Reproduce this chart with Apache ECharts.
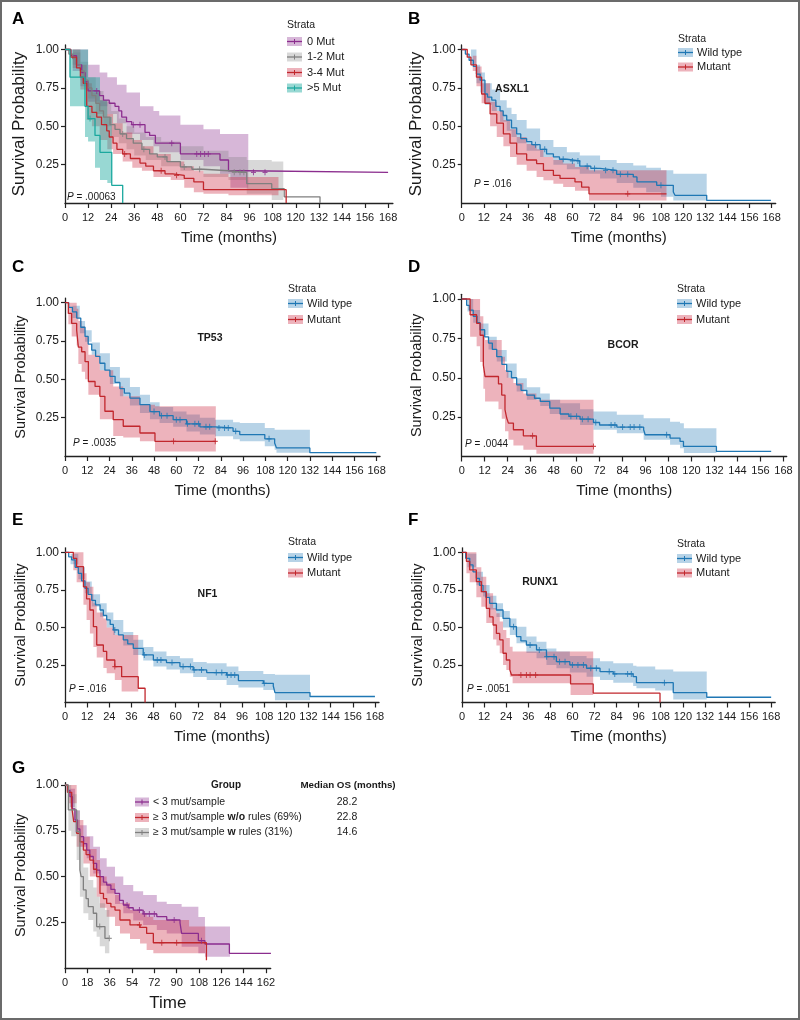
<!DOCTYPE html>
<html><head><meta charset="utf-8">
<script src="https://cdn.jsdelivr.net/npm/echarts@6.0.0/dist/echarts.min.js"></script>
<style>
html,body{margin:0;padding:0;background:#fff}
#c{width:800px;height:1020px;position:absolute;left:0;top:0}
#frame{position:absolute;left:0;top:0;width:800px;height:1020px;box-sizing:border-box;border:2px solid #6b6b6b;pointer-events:none}
</style></head>
<body><div id="c"></div><div id="frame"></div>
<script>
// ---------------- DATA ----------------
const MONTH_TICKS = [0,12,24,36,48,60,72,84,96,108,120,132,144,156,168];
const G_TIME_TICKS = [0,18,36,54,72,90,108,126,144,162];
const SURV_TICKS = [0.25,0.5,0.75,1.0];
const PANEL_LETTERS = ['A','B','C','D','E','F','G'];
const GENES = ['ASXL1','TP53','BCOR','NF1','RUNX1'];
const P_VALUES = ['.00063','.016','.0035','.0044','.016','.0051'];
const STRATA_A = ['0 Mut','1-2 Mut','3-4 Mut','>5 Mut'];
const STRATA_GENE = ['Wild type','Mutant'];
const G_GROUPS = ['< 3 mut/sample','≥ 3 mut/sample {b|w/o} rules (69%)','≥ 3 mut/sample {b|w} rules (31%)'];
const G_MEDIAN_OS = ['28.2','22.8','14.6'];

// Panel A  : [time, survival] ; CI: [time, lower, upper] ; censor times
const A_MUT0 = [[0,1],[3,0.96],[6,0.9],[8.7,0.85],[10.4,0.79],[12,0.73],[18,0.7],[20,0.67],[23,0.65],[26,0.63],[28,0.6],[29.5,0.56],[32,0.53],[34.7,0.51],[41.6,0.46],[44,0.44],[47,0.39],[60,0.32],[80.6,0.28],[85,0.21],[94,0.2],[168,0.2]];
const A_MUT0_CI = [[0,1,1],[4,0.86,1],[8,0.76,1],[12,0.66,0.9],[18,0.63,0.85],[22,0.58,0.82],[27,0.52,0.77],[32,0.45,0.72],[39,0.41,0.63],[46,0.37,0.6],[49,0.33,0.57],[60,0.28,0.51],[72,0.24,0.48],[80.6,0.19,0.45],[86,0.1,0.45],[95.3,0.1,0.45]];
const A_MUT0_CENS = [16.5,35.5,39,55.5,68.5,70.5,72.6,74.5,98,104];
const A_MUT12 = [[0,1],[2,0.97],[4,0.94],[6,0.9],[8,0.86],[10,0.8],[12,0.75],[14,0.7],[16,0.65],[18,0.6],[20,0.56],[23.4,0.51],[26,0.48],[28.6,0.45],[32,0.42],[35.5,0.39],[40,0.35],[44,0.32],[48,0.3],[53,0.27],[60,0.235],[66,0.22],[72,0.21],[85,0.2],[94.5,0.126],[107.5,0.093],[114,0.04],[132.6,0]];
const A_MUT12_CI = [[0,1,1],[4,0.9,0.98],[8,0.8,0.92],[12,0.68,0.82],[16,0.58,0.73],[20,0.5,0.66],[24,0.43,0.6],[28,0.39,0.55],[32,0.35,0.5],[36,0.31,0.46],[42,0.28,0.43],[50,0.24,0.4],[60,0.21,0.37],[72,0.17,0.34],[85,0.15,0.3],[94.5,0.06,0.28],[107.5,0.02,0.27],[113.5,0.02,0.27]];
const A_MUT12_CENS = [30,41,52,62,70,88,91,93];
const A_MUT34 = [[0,1],[3,0.95],[6,0.88],[8,0.82],[9.5,0.78],[11.3,0.63],[14,0.59],[16.5,0.56],[19,0.51],[21.7,0.47],[23,0.43],[25,0.39],[27,0.35],[30,0.32],[34,0.29],[39,0.26],[42,0.24],[46,0.21],[52,0.19],[56,0.18],[62,0.16],[67,0.137],[72,0.087],[115,0]];
const A_MUT34_CI = [[0,1,1],[4,0.88,1],[8,0.74,0.9],[11.3,0.54,0.78],[14,0.5,0.72],[18,0.41,0.67],[22,0.35,0.58],[25,0.32,0.52],[30,0.27,0.46],[35,0.23,0.41],[40,0.21,0.37],[46,0.17,0.32],[55,0.15,0.27],[62,0.1,0.24],[67,0.07,0.21],[72,0.06,0.19],[85,0.05,0.17],[111,0.05,0.17]];
const A_MUT34_CENS = [31,50,58];
const A_MUT5 = [[0,1],[2.6,0.82],[10.4,0.63],[12,0.55],[15.6,0.44],[18.2,0.33],[24.3,0.115],[30,0]];
const A_MUT5_CI = [[0,1,1],[2.6,0.63,1],[10.4,0.43,1],[12,0.4,0.82],[15.6,0.23,0.82],[18.2,0.15,0.67],[22,0.13,0.56],[24.3,0.13,0.56]];
const A_MUT5_CENS = [13];

// Panel B (ASXL1)
const B_WT = [[0,1],[2,0.97],[4,0.93],[6.3,0.89],[8,0.84],[10,0.8],[12.6,0.71],[14,0.69],[16.3,0.67],[18.5,0.63],[20.8,0.6],[22.5,0.57],[24.4,0.54],[27,0.49],[29.8,0.45],[32,0.42],[35.2,0.4],[38,0.38],[42.5,0.35],[46,0.32],[49.7,0.3],[53,0.285],[57,0.274],[64,0.24],[70,0.225],[75,0.213],[84,0.187],[93,0.17],[95,0.137],[105.7,0.115],[114.7,0.072],[115.6,0.05],[132.8,0.017],[167.6,0.017]];
const B_WT_CI = [[0,1,1],[5,0.9,1],[8,0.78,0.9],[10,0.72,0.85],[12.6,0.64,0.78],[16.3,0.6,0.74],[20.8,0.53,0.67],[24.4,0.47,0.62],[27,0.43,0.58],[29.8,0.39,0.54],[35.2,0.34,0.485],[42.5,0.3,0.41],[49.7,0.25,0.365],[57,0.22,0.33],[64,0.19,0.31],[75,0.16,0.28],[84,0.13,0.26],[93,0.1,0.245],[100,0.07,0.23],[108,0.04,0.213],[114.7,0.017,0.19],[132.8,0.017,0.19]];
const B_WT_CENS = [40,45,55,60,63,68,72,78,82,86,90,108];
const B_MUT = [[0,1],[3,0.95],[5,0.9],[8,0.82],[10.8,0.71],[12.6,0.65],[15.4,0.58],[19,0.52],[22.6,0.45],[26.2,0.39],[29.8,0.32],[35.2,0.28],[40.6,0.257],[44.3,0.213],[49.7,0.18],[53.3,0.16],[61.4,0.137],[65,0.104],[69,0.06],[111,0.06]];
const B_MUT_CI = [[0,1,1],[6,0.86,0.96],[8,0.76,0.89],[10.8,0.65,0.78],[15.4,0.5,0.66],[19,0.43,0.6],[22.6,0.37,0.54],[26.2,0.3,0.48],[29.8,0.25,0.43],[35.2,0.21,0.385],[40.6,0.17,0.35],[44.3,0.148,0.3],[49.7,0.125,0.28],[55,0.104,0.257],[61.4,0.08,0.235],[69,0.017,0.213],[111,0.017,0.213]];
const B_MUT_CENS = [90];

// Panel C (TP53)
const C_WT = [[0,1],[2,0.97],[4,0.94],[6.3,0.9],[8.5,0.84],[10.8,0.78],[12.5,0.73],[14.4,0.69],[16.5,0.65],[18.8,0.605],[21.5,0.56],[24.2,0.52],[27,0.48],[29.6,0.44],[32,0.41],[35,0.378],[40.4,0.335],[45.8,0.29],[51,0.263],[58.3,0.237],[65.5,0.21],[72.7,0.19],[80.8,0.183],[90.6,0.161],[94.2,0.14],[107.7,0.112],[113,0.085],[114,0.053],[132,0.022],[167.8,0.022]];
const C_WT_CI = [[0,1,1],[4,0.9,0.98],[8,0.8,0.88],[10.8,0.746,0.82],[14.4,0.66,0.74],[18.8,0.56,0.67],[24.2,0.47,0.58],[29.6,0.389,0.51],[35,0.33,0.45],[40.4,0.28,0.4],[45.8,0.24,0.35],[51,0.215,0.32],[58.3,0.19,0.29],[65.5,0.16,0.27],[72.7,0.14,0.25],[80.8,0.129,0.237],[90.6,0.11,0.22],[94.2,0.096,0.215],[107.7,0.064,0.183],[113,0.04,0.172],[114,0.022,0.172],[132,0.022,0.172]];
const C_WT_CENS = [48,52,55,60,62,66,70,72,76,78,83,86,88,92,110];
const C_MUT = [[0,1],[1.8,0.93],[3.6,0.865],[6.3,0.82],[7.2,0.71],[9,0.68],[10.8,0.616],[12.6,0.486],[16.2,0.454],[18.8,0.389],[21.5,0.292],[26,0.237],[31.4,0.194],[40.4,0.15],[48.5,0.096],[81.3,0.096]];
const C_MUT_CI = [[0,1,1],[1.8,0.86,1],[3.6,0.78,1],[6.3,0.72,0.96],[7.2,0.6,0.88],[9,0.55,0.845],[10.8,0.5,0.78],[12.6,0.4,0.66],[18.8,0.24,0.56],[26,0.13,0.454],[31.4,0.12,0.39],[40.4,0.096,0.335],[48.5,0.03,0.324],[81.3,0.03,0.324]];
const C_MUT_CENS = [58.5,81];

// Panel D (BCOR)
const D_WT = [[0,1],[2.6,0.96],[4,0.93],[6,0.89],[8,0.85],[9.6,0.805],[12,0.76],[14,0.72],[16,0.68],[18.3,0.634],[21,0.585],[23.5,0.54],[26,0.5],[28.7,0.455],[31,0.42],[34,0.39],[38,0.37],[41,0.35],[46,0.307],[51.4,0.27],[56,0.255],[61.8,0.237],[68.8,0.216],[72,0.2],[81,0.187],[95,0.17],[95.8,0.138],[108.8,0.117],[114,0.096],[115.8,0.064],[133,0.032],[161.6,0.032]];
const D_WT_CI = [[0,1,1],[3,0.92,1],[6,0.85,0.93],[9.6,0.77,0.845],[14,0.68,0.76],[18.3,0.603,0.677],[23.5,0.5,0.59],[28.7,0.413,0.497],[34,0.36,0.44],[41,0.32,0.4],[46,0.27,0.36],[51.4,0.233,0.338],[61.8,0.2,0.3],[68.8,0.17,0.286],[81,0.148,0.265],[95,0.106,0.243],[108.8,0.075,0.22],[114,0.053,0.211],[116,0.022,0.18],[133,0.022,0.18]];
const D_WT_CENS = [57,60,63,66,70,78,80,84,88,90,93,107];
const D_MUT = [[0,1],[4.4,0.9],[7.8,0.846],[9.6,0.77],[11.3,0.58],[12.2,0.508],[19.2,0.461],[20.9,0.39],[22.6,0.297],[23.5,0.244],[24.4,0.212],[27,0.17],[32.2,0.131],[39,0.064],[68.8,0.064]];
const D_MUT_CI = [[0,1,1],[4.4,0.76,1],[7.8,0.7,1],[9.6,0.6,0.89],[11.3,0.43,0.8],[12.2,0.35,0.74],[19.2,0.3,0.74],[20.9,0.24,0.634],[22.6,0.16,0.55],[24.4,0.106,0.5],[27,0.07,0.466],[32.2,0.043,0.4],[39,0.017,0.36],[68.8,0.017,0.36]];
const D_MUT_CENS = [37,68.8];

// Panel E (NF1)
const E_WT = [[0,1],[2,0.97],[3.6,0.95],[5.5,0.9],[7.2,0.86],[9,0.81],[10.8,0.76],[12.5,0.72],[14.5,0.68],[16.5,0.65],[19,0.616],[20.8,0.58],[22.6,0.55],[24.5,0.52],[26.2,0.483],[29,0.45],[31.6,0.417],[34,0.39],[37,0.36],[42.4,0.317],[47.9,0.283],[55,0.266],[62.3,0.239],[69.5,0.217],[76.8,0.199],[87.6,0.183],[94,0.146],[107.5,0.128],[112.9,0.11],[113.8,0.066],[132.8,0.04],[168,0.04]];
const E_WT_CI = [[0,1,1],[3,0.92,0.99],[7.2,0.82,0.9],[10.8,0.727,0.805],[14.5,0.64,0.72],[19,0.571,0.66],[22.6,0.5,0.6],[26.2,0.45,0.55],[31.6,0.38,0.47],[37,0.317,0.417],[42.4,0.28,0.37],[47.9,0.239,0.34],[55,0.22,0.31],[62.3,0.195,0.294],[69.5,0.17,0.27],[76.8,0.15,0.261],[87.6,0.117,0.239],[94,0.1,0.21],[107.5,0.084,0.19],[113.8,0.015,0.184],[132.8,0.015,0.184]];
const E_WT_CENS = [27,43,50,52,58,64,68,70,74,82,85,88,90,92,108];
const E_MUT = [[0,1],[4.5,0.96],[6.3,0.905],[10,0.77],[11.7,0.69],[13.5,0.616],[15.4,0.505],[17.2,0.383],[20.8,0.34],[22.6,0.283],[27,0.239],[30.7,0.172],[39.7,0.095],[43.4,0]];
const E_MUT_CI = [[0,1,1],[4.5,0.88,1],[6.3,0.8,1],[10,0.65,0.86],[11.7,0.55,0.8],[13.5,0.46,0.77],[15.4,0.37,0.66],[17.2,0.3,0.6],[20.8,0.23,0.56],[22.6,0.195,0.5],[27,0.15,0.45],[30.7,0.073,0.45],[39.7,0.073,0.45]];
const E_MUT_CENS = [27];

// Panel F (RUNX1)
const F_WT = [[0,1],[2,0.96],[4.2,0.916],[6,0.87],[7.8,0.827],[9.5,0.78],[11.4,0.738],[13,0.7],[15,0.66],[18.7,0.616],[22.3,0.56],[26,0.505],[29.6,0.439],[32,0.41],[35,0.383],[40.5,0.35],[45.9,0.305],[51.3,0.272],[58.6,0.25],[67.7,0.228],[75,0.206],[82.2,0.19],[93,0.172],[94.8,0.132],[114.8,0.066],[133,0.035],[168,0.035]];
const F_WT_CI = [[0,1,1],[3,0.9,0.99],[7.8,0.78,0.87],[11.4,0.705,0.782],[15,0.62,0.71],[18.7,0.57,0.66],[22.3,0.5,0.61],[26,0.45,0.56],[29.6,0.394,0.505],[35,0.33,0.44],[40.5,0.294,0.405],[45.9,0.25,0.36],[51.3,0.228,0.339],[58.6,0.2,0.31],[67.7,0.172,0.294],[75,0.15,0.275],[82.2,0.132,0.261],[93,0.11,0.245],[94.8,0.095,0.239],[105,0.08,0.22],[114.8,0.02,0.206],[133,0.02,0.206]];
const F_WT_CENS = [28,37,42,46,50,53,56,60,63,66,70,73,80,83,90,92,110];
const F_MUT = [[0,1],[2.4,0.94],[4.2,0.883],[7.8,0.805],[10.5,0.738],[13.2,0.627],[15,0.57],[16.9,0.516],[18.7,0.46],[20.5,0.417],[22.3,0.328],[24.1,0.283],[26,0.217],[26.9,0.183],[59,0.124],[71.3,0.062],[107.6,0]];
const F_MUT_CI = [[0,1,1],[2.4,0.86,1],[4.2,0.8,1],[7.8,0.7,0.9],[10.5,0.638,0.838],[13.2,0.53,0.727],[16.9,0.42,0.63],[18.7,0.38,0.594],[20.5,0.328,0.54],[22.3,0.25,0.483],[24.1,0.217,0.43],[26,0.172,0.372],[27.5,0.128,0.339],[59,0.05,0.339],[71.3,0.05,0.339]];
const F_MUT_CENS = [32,35,37,40];

// Panel G
const G_LOW = [[0,1],[2,0.97],[4,0.936],[6,0.87],[8,0.809],[10,0.76],[12,0.718],[15,0.68],[17.5,0.645],[20,0.61],[22.8,0.572],[25.5,0.535],[28.2,0.5],[31,0.47],[33.6,0.454],[37,0.43],[40.3,0.408],[44,0.37],[47,0.345],[51,0.33],[55,0.317],[63,0.296],[74,0.281],[82,0.263],[92.7,0.248],[94,0.19],[107.5,0.15],[112.8,0.132],[132.5,0.081],[166,0.081]];
const G_LOW_CI = [[0,1,1],[4,0.88,0.98],[8,0.74,0.86],[12,0.663,0.78],[17.5,0.6,0.72],[22.8,0.517,0.663],[28.2,0.45,0.6],[33.6,0.408,0.554],[40.3,0.35,0.5],[47,0.3,0.454],[55,0.26,0.42],[63,0.236,0.4],[74,0.208,0.363],[82,0.19,0.35],[94,0.117,0.336],[107.5,0.081,0.28],[112.8,0.063,0.227],[133,0.063,0.227]];
const G_LOW_CENS = [50,60,64,68,72,88,110];
const G_NORULE = [[0,1],[2,0.96],[5.4,0.882],[7,0.8],[9.4,0.736],[12,0.69],[14.8,0.645],[17,0.62],[20,0.59],[23,0.54],[25.5,0.5],[28.2,0.408],[31,0.38],[33.6,0.354],[37,0.335],[40.3,0.317],[44.3,0.263],[52.4,0.236],[60.5,0.223],[65.8,0.19],[71.2,0.139],[114,0.044]];
const G_NORULE_CI = [[0,1,1],[3,0.9,1],[9.4,0.663,0.809],[14.8,0.572,0.718],[20,0.5,0.65],[25.5,0.39,0.59],[28.2,0.33,0.5],[33.6,0.281,0.463],[40.3,0.23,0.4],[44.3,0.19,0.354],[52.4,0.16,0.317],[60.5,0.135,0.3],[65.8,0.1,0.281],[71.2,0.081,0.263],[100,0.081,0.227],[113,0.081,0.227]];
const G_NORULE_CENS = [60,78,90];
const G_RULE = [[0,1],[2.7,0.864],[9.4,0.745],[12,0.536],[13,0.5],[14.8,0.427],[17,0.38],[18.8,0.336],[22.8,0.3],[25.5,0.227],[32.2,0.163],[35.7,0.163]];
const G_RULE_CI = [[0,1,1],[2.7,0.75,1],[5,0.72,0.95],[9.4,0.59,0.864],[12,0.39,0.663],[14.8,0.3,0.55],[18.8,0.263,0.481],[22.8,0.2,0.44],[25.5,0.172,0.39],[28,0.12,0.354],[32.2,0.081,0.317],[35.7,0.081,0.317]];
const G_RULE_CENS = [28,35.7];

// ---------------- STYLE / LAYOUT ----------------
const FONT = '"Liberation Sans", Arial, sans-serif';
const TXT = '#1a1a1a';
const COL = {
  purple: ['#8B2D8E','rgba(139,45,142,0.34)'],
  gray:   ['#7f7f7f','rgba(127,127,127,0.30)'],
  red:    ['#C1272D','rgba(205,45,70,0.36)'],
  teal:   ['#1AA89E','rgba(26,168,158,0.45)'],
  blue:   ['#1F77B4','rgba(31,119,180,0.32)']
};
const PLUS = 'path://M4,0H6V4H10V6H6V10H4V6H0V4H4Z';

function survAt(curve, t){ let s = curve[0][1]; for (const p of curve){ if (p[0] <= t) s = p[1]; } return s; }

const grids = [], xAxes = [], yAxes = [], series = [], graphics = [];

// step-shaped confidence band drawn as one polygon through the axis scales
function bandRenderer(fill){
  return function(params, api){
    if (params.dataIndex !== 0) return null;
    const rows = [];
    for (let i = 0; i < 500; i++){
      const t = api.value(0, i);
      if (t === undefined || t === null || isNaN(t)) break;
      rows.push([t, api.value(1, i), api.value(2, i)]);
    }
    const top = [], bot = [];
    for (let k = 0; k < rows.length; k++){
      const r = rows[k];
      const tn = k < rows.length - 1 ? rows[k + 1][0] : r[0];
      top.push(api.coord([r[0], r[2]]), api.coord([tn, r[2]]));
      bot.push(api.coord([r[0], r[1]]), api.coord([tn, r[1]]));
    }
    return {type:'polygon', shape:{points:top.concat(bot.reverse())}, style:{fill:fill}, silent:true};
  };
}

function addPanel(L, ticks, xName, yNameSize, curves){
  const gi = grids.length;
  grids.push({left:L.left, top:L.top, width:L.width, height:L.height, containLabel:false, outerBoundsMode:'none'});
  xAxes.push({
    type:'value', gridIndex:gi, min:0, max:L.xmax,
    axisLine:{show:true, onZero:false, lineStyle:{color:'#222', width:1.3}},
    axisTick:{show:true, customValues:ticks, length:5, lineStyle:{color:'#222', width:1.2}},
    axisLabel:{show:true, customValues:ticks, fontSize:11, color:TXT, fontFamily:FONT, margin:9},
    splitLine:{show:false},
    name:xName, nameLocation:'middle', nameGap:L.xGap || 27,
    nameTextStyle:{fontSize:L.xNameSize || 15, color:TXT, fontFamily:FONT}
  });
  yAxes.push({
    type:'value', gridIndex:gi, min:0, max:L.ymax,
    axisLine:{show:true, onZero:false, lineStyle:{color:'#222', width:1.3}},
    axisTick:{show:true, customValues:SURV_TICKS, length:4, lineStyle:{color:'#222', width:1.2}},
    axisLabel:{show:true, customValues:SURV_TICKS, fontSize:12, color:TXT, fontFamily:FONT, margin:6,
      formatter:v => v.toFixed(2)},
    splitLine:{show:false},
    name:'Survival Probability', nameLocation:'middle', nameGap:37,
    nameTextStyle:{fontSize:yNameSize, color:TXT, fontFamily:FONT}
  });
  curves.forEach(c => {
    series.push({type:'custom', xAxisIndex:gi, yAxisIndex:gi, silent:true, z:1, clip:true,
      encode:{x:0, y:[1,2]}, data:c.ci, renderItem:bandRenderer(c.col[1])});
  });
  curves.forEach(c => {
    series.push({type:'line', xAxisIndex:gi, yAxisIndex:gi, step:'end', symbol:'none', silent:true, z:3,
      lineStyle:{color:c.col[0], width:1.3}, data:c.curve});
    series.push({type:'scatter', xAxisIndex:gi, yAxisIndex:gi, symbol:PLUS, symbolSize:[5,6], silent:true, z:4,
      itemStyle:{color:c.col[0]}, data:c.cens.map(t => [t, survAt(c.curve, t)])});
  });
}

function text(x, y, str, opt){
  graphics.push({type:'text', x:x, y:y, silent:true, z:10,
    style:Object.assign({text:str, fill:TXT, fontFamily:FONT, fontSize:11, align:'left', verticalAlign:'middle'}, opt || {})});
}
function strataLegend(x, yTitle, keyYs, labelX, labels, cols){
  text(x, yTitle, 'Strata', {fontSize:10.5});
  keyYs.forEach((ky, i) => {
    graphics.push({type:'rect', silent:true, z:10, shape:{x:x, y:ky - 4.5, width:15, height:9}, style:{fill:cols[i][1]}});
    graphics.push({type:'line', silent:true, z:11, shape:{x1:x, y1:ky, x2:x + 15, y2:ky}, style:{stroke:cols[i][0], lineWidth:1.3}});
    graphics.push({type:'line', silent:true, z:11, shape:{x1:x + 7.5, y1:ky - 2.5, x2:x + 7.5, y2:ky + 2.5}, style:{stroke:cols[i][0], lineWidth:1}});
    text(labelX, ky, labels[i], {fontSize:11});
  });
}
function pval(x, y, v){
  text(x, y, '{i|P} = ' + v, {fontSize:10, rich:{i:{fontStyle:'italic', fontSize:10, fontFamily:FONT, fill:TXT}}});
}
function gene(x, y, g){ text(x, y, g, {fontSize:10.5, fontWeight:'bold', align:'center'}); }

// Panel A
addPanel({left:65, top:44.9, width:327.9, height:158.1, xmax:170.5, ymax:1.03}, MONTH_TICKS, 'Time (months)', 17, [
  {curve:A_MUT0, ci:A_MUT0_CI, cens:A_MUT0_CENS, col:COL.purple},
  {curve:A_MUT12, ci:A_MUT12_CI, cens:A_MUT12_CENS, col:COL.gray},
  {curve:A_MUT34, ci:A_MUT34_CI, cens:A_MUT34_CENS, col:COL.red},
  {curve:A_MUT5, ci:A_MUT5_CI, cens:A_MUT5_CENS, col:COL.teal}
]);
// Panel B
addPanel({left:461.7, top:44.9, width:314, height:158.1, xmax:170.2, ymax:1.03}, MONTH_TICKS, 'Time (months)', 17, [
  {curve:B_WT, ci:B_WT_CI, cens:B_WT_CENS, col:COL.blue},
  {curve:B_MUT, ci:B_MUT_CI, cens:B_MUT_CENS, col:COL.red}
]);
// Panel C
addPanel({left:65, top:298.1, width:315, height:157.9, xmax:169.8, ymax:1.03}, MONTH_TICKS, 'Time (months)', 14.5, [
  {curve:C_WT, ci:C_WT_CI, cens:C_WT_CENS, col:COL.blue},
  {curve:C_MUT, ci:C_MUT_CI, cens:C_MUT_CENS, col:COL.red}
]);
// Panel D
addPanel({left:461.7, top:294.3, width:325, height:162.2, xmax:169.7, ymax:1.03}, MONTH_TICKS, 'Time (months)', 14.5, [
  {curve:D_WT, ci:D_WT_CI, cens:D_WT_CENS, col:COL.blue},
  {curve:D_MUT, ci:D_MUT_CI, cens:D_MUT_CENS, col:COL.red}
]);
// Panel E
addPanel({left:65, top:547.8, width:314, height:154.7, xmax:170.2, ymax:1.03}, MONTH_TICKS, 'Time (months)', 14.5, [
  {curve:E_WT, ci:E_WT_CI, cens:E_WT_CENS, col:COL.blue},
  {curve:E_MUT, ci:E_MUT_CI, cens:E_MUT_CENS, col:COL.red}
]);
// Panel F
addPanel({left:462, top:547.8, width:313.2, height:154.7, xmax:170.2, ymax:1.03}, MONTH_TICKS, 'Time (months)', 14.5, [
  {curve:F_WT, ci:F_WT_CI, cens:F_WT_CENS, col:COL.blue},
  {curve:F_MUT, ci:F_MUT_CI, cens:F_MUT_CENS, col:COL.red}
]);
// Panel G
addPanel({left:65, top:782.7, width:205.7, height:185.5, xmax:165.8, ymax:1.0125, xNameSize:17, xGap:27}, G_TIME_TICKS, 'Time', 14.5, [
  {curve:G_LOW, ci:G_LOW_CI, cens:G_LOW_CENS, col:COL.purple},
  {curve:G_NORULE, ci:G_NORULE_CI, cens:G_NORULE_CENS, col:COL.red},
  {curve:G_RULE, ci:G_RULE_CI, cens:G_RULE_CENS, col:COL.gray}
]);

// Panel letters
const letterPos = [[12,19],[408,19],[12,267],[408,267],[12,520],[408,520],[12,768]];
PANEL_LETTERS.forEach((l, i) => text(letterPos[i][0], letterPos[i][1], l, {fontSize:17, fontWeight:'bold', fill:'#000'}));

// Strata legends
strataLegend(287, 25, [41.5,57,72.5,88], 307, STRATA_A, [COL.purple, COL.gray, COL.red, COL.teal]);
strataLegend(678, 39, [52.5,67], 697, STRATA_GENE, [COL.blue, COL.red]);
strataLegend(288, 289, [303.5,319.5], 307, STRATA_GENE, [COL.blue, COL.red]);
strataLegend(677, 289, [303.5,319.5], 696, STRATA_GENE, [COL.blue, COL.red]);
strataLegend(288, 542.5, [557.5,573], 307, STRATA_GENE, [COL.blue, COL.red]);
strataLegend(677, 544, [558.5,573], 696, STRATA_GENE, [COL.blue, COL.red]);

// Gene labels
const genePos = [[512,89],[210,338],[623,345],[207.5,594],[540,582.5]];
GENES.forEach((g, i) => gene(genePos[i][0], genePos[i][1], g));

// P values
const pPos = [[67,197],[474,184],[73,443],[465,444],[69,689],[467,689]];
P_VALUES.forEach((v, i) => pval(pPos[i][0], pPos[i][1], v));

// Panel G legend
text(226, 785.5, 'Group', {fontSize:10, fontWeight:'bold', align:'center'});
text(348, 785.5, 'Median OS (months)', {fontSize:9.8, fontWeight:'bold', align:'center'});
const gCols = [COL.purple, COL.red, COL.gray];
const gKeyY = [802, 817.5, 832.5];
G_GROUPS.forEach((lab, i) => {
  const ky = gKeyY[i], x = 135;
  graphics.push({type:'rect', silent:true, z:10, shape:{x:x, y:ky - 4.5, width:14, height:9}, style:{fill:gCols[i][1]}});
  graphics.push({type:'line', silent:true, z:11, shape:{x1:x, y1:ky, x2:x + 14, y2:ky}, style:{stroke:gCols[i][0], lineWidth:1.3}});
  graphics.push({type:'line', silent:true, z:11, shape:{x1:x + 7, y1:ky - 2.5, x2:x + 7, y2:ky + 2.5}, style:{stroke:gCols[i][0], lineWidth:1}});
  text(153, ky, lab, {fontSize:10.5, rich:{b:{fontWeight:'bold', fontSize:10.5, fontFamily:FONT, fill:TXT}}});
  text(347, ky, G_MEDIAN_OS[i], {fontSize:10.5, align:'center'});
});

const chart = echarts.init(document.getElementById('c'), null, {renderer:'canvas', width:800, height:1020});
chart.setOption({
  backgroundColor:'#ffffff',
  animation:false,
  textStyle:{fontFamily:FONT},
  grid:grids, xAxis:xAxes, yAxis:yAxes, series:series, graphic:graphics
});
</script></body></html>
